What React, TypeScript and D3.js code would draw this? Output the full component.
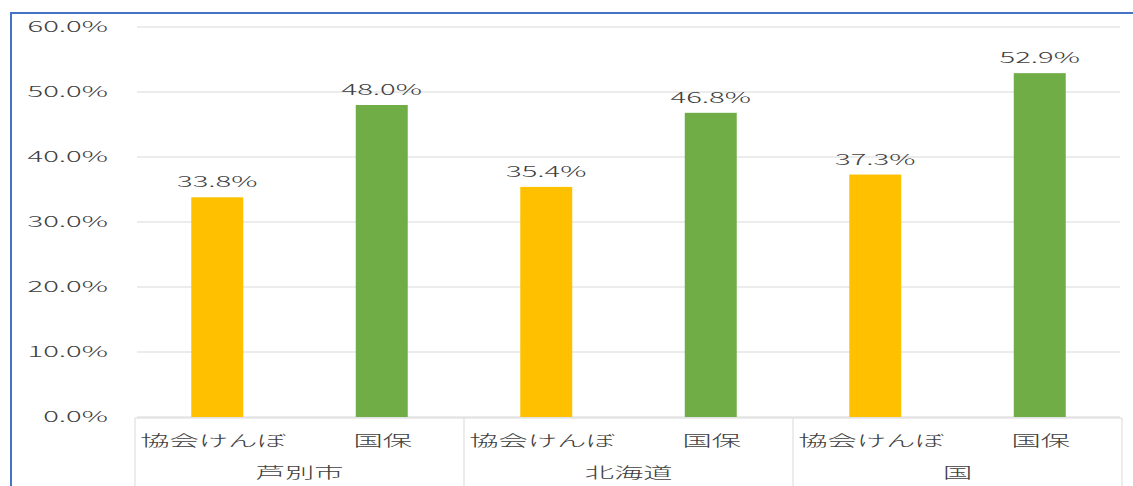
import React from "react";
import * as d3 from "d3";

// Regions (outer category level) and insurance types (inner level)
const regions = ["芦別市", "北海道", "国"];
const insurers = ["協会けんぼ", "国保"];
const kyokaiValues = [33.8, 35.4, 37.3];
const kokuhoValues = [48.0, 46.8, 52.9];
const yTicks = [0, 10, 20, 30, 40, 50, 60];

const W = 1133;
const H = 486;
const FONT = "'Noto Sans CJK JP', 'Noto Sans', sans-serif";
const TEXT = "#404040";
const GRID = "#d9d9d9";
const STRETCH = 1.95;
const COLORS = ["#FFC000", "#70AD47"];
// small horizontal nudge of each inner category label relative to its bar
const LABEL_NUDGE = [-4, 1];

function SText(props: {
  x: number;
  y: number;
  anchor?: "start" | "middle" | "end";
  size?: number;
  children: React.ReactNode;
}) {
  const { x, y, anchor = "middle", size = 15, children } = props;
  return (
    <text
      transform={`translate(${x},${y}) scale(${STRETCH},1)`}
      textAnchor={anchor}
      fontSize={size}
      fontFamily={FONT}
      fontWeight={300}
      fill={TEXT}
    >
      {children}
    </text>
  );
}

export default function App() {
  const plotLeft = 135;
  const plotRight = 1122;
  const y = d3.scaleLinear().domain([0, 60]).range([417, 27]);
  const x0 = d3.scaleBand<string>().domain(regions).range([plotLeft, plotRight]).padding(0);
  const x1 = d3
    .scaleBand<string>()
    .domain(insurers)
    .range([0, x0.bandwidth()])
    .paddingInner(0.684)
    .paddingOuter(0.342);

  const seriesValues = [kyokaiValues, kokuhoValues];
  const baseY = y(0);

  return (
    <div style={{ position: "absolute", left: 0, top: 0 }}>
      <svg width={W} height={H} style={{ display: "block", background: "#fff" }}>
        {/* gridlines */}
        {yTicks.map((t) => (
          <line
            key={"g" + t}
            x1={plotLeft + 2}
            x2={plotRight - 2}
            y1={y(t)}
            y2={y(t)}
            stroke={GRID}
            strokeWidth={1}
          />
        ))}
        {/* y tick labels */}
        {yTicks.map((t) => (
          <SText key={"t" + t} x={108} y={y(t) + 5} anchor="end">
            {t.toFixed(1) + "%"}
          </SText>
        ))}
        {/* bars and value labels */}
        {regions.map((r, gi) =>
          insurers.map((s, si) => {
            const v = seriesValues[si][gi];
            const bx = (x0(r) as number) + (x1(s) as number);
            const bw = x1.bandwidth();
            return (
              <g key={r + s}>
                <rect x={bx} y={y(v)} width={bw} height={baseY - y(v)} fill={COLORS[si]} />
                <SText x={bx + bw / 2} y={y(v) - 10}>
                  {v.toFixed(1) + "%"}
                </SText>
              </g>
            );
          })
        )}
        {/* category axis */}
        <line x1={plotLeft} x2={plotRight} y1={baseY + 1} y2={baseY + 1} stroke={GRID} />
        {[...regions.map((r) => x0(r) as number), plotRight].map((xv, i) => (
          <line key={"sep" + i} x1={xv} x2={xv} y1={baseY + 1} y2={H} stroke={GRID} />
        ))}
        {regions.map((r) =>
          insurers.map((s, si) => (
            <SText
              key={"c" + r + s}
              x={(x0(r) as number) + (x1(s) as number) + x1.bandwidth() / 2 + LABEL_NUDGE[si]}
              y={446}
              size={15}
            >
              {s}
            </SText>
          ))
        )}
        {regions.map((r) => (
          <SText key={"r" + r} x={(x0(r) as number) + x0.bandwidth() / 2} y={478} size={15}>
            {r}
          </SText>
        ))}
        {/* frame */}
        <path d={`M11,${H} V13 H${W}`} fill="none" stroke="#4472C4" strokeWidth={2} />
      </svg>
    </div>
  );
}
